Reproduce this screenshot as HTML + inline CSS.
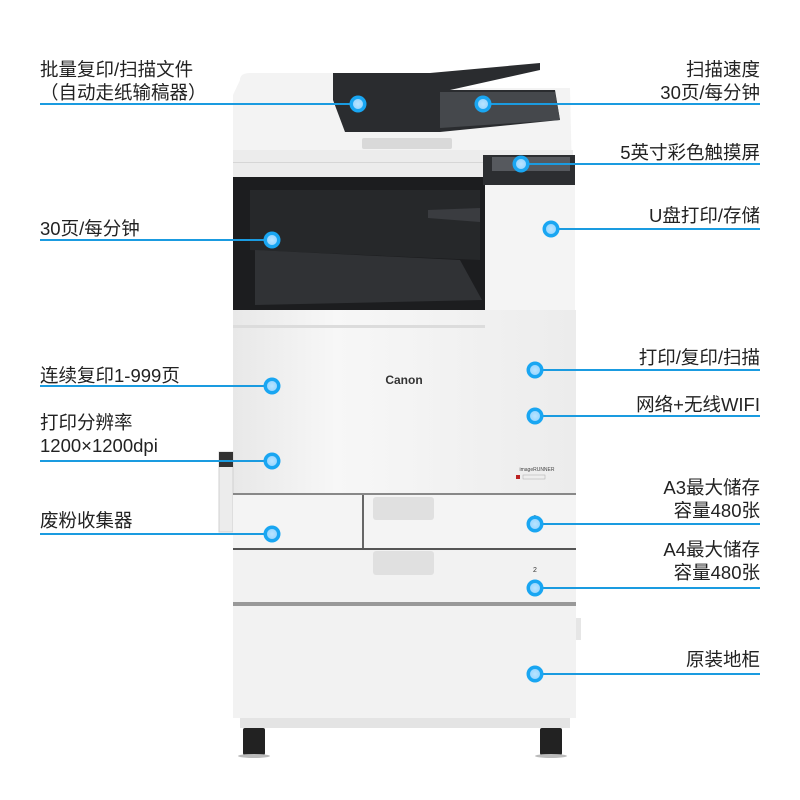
<!DOCTYPE html>
<html><head><meta charset="utf-8"><style>
body{margin:0;background:#fff}
#c{position:relative;width:800px;height:800px;overflow:hidden;background:#fff;font-family:"Liberation Sans","Noto Sans CJK SC",sans-serif;color:#222}
.t{position:absolute;font-size:18.5px;line-height:23px;white-space:nowrap}
.r{text-align:right;right:40px}
.l{left:40px}
</style></head><body><div id="c">
<svg width="800" height="800" style="position:absolute;left:0;top:0">
<defs>
<linearGradient id="g1" x1="0" y1="0" x2="1" y2="0"><stop offset="0" stop-color="#e8e8e8"/><stop offset=".3" stop-color="#f7f7f7"/><stop offset="1" stop-color="#ececec"/></linearGradient>
<radialGradient id="dt"><stop offset="0" stop-color="#b9e4ff"/><stop offset=".55" stop-color="#9dd8ff"/><stop offset=".62" stop-color="#19a6f2"/><stop offset="1" stop-color="#19a6f2"/></radialGradient>
</defs>
<path d="M240 80 Q240 73 250 73 L335 73 L335 88 L570 88 L572 177 L233 177 L233 95 Z" fill="#f3f3f3"/>
<rect x="233" y="150" width="340" height="27" fill="#ececec"/>
<rect x="233" y="162" width="340" height="1" fill="#d6d6d6"/>
<path d="M333 73 L430 73 L540 63 L540 70 L450 90 L555 90 L560 120 L440 132 L345 132 L333 100 Z" fill="#2a2c2f"/>
<path d="M440 92 L555 92 L560 120 L440 128 Z" fill="#45484c"/>
<rect x="362" y="138" width="90" height="11" rx="2" fill="#d9d9d9"/>
<path d="M233 177 L485 177 L485 310 Q485 325 470 325 L245 325 Q233 325 233 312 Z" fill="#1c1d1f"/>
<path d="M250 190 L480 190 L480 260 L250 250 Z" fill="#26282a"/>
<path d="M255 250 L460 260 L482 300 L255 305 Z" fill="#303235"/>
<path d="M428 210 L480 208 L480 222 L428 218 Z" fill="#3a3c40"/>
<rect x="483" y="155" width="92" height="30" fill="#2c2e31"/>
<rect x="492" y="157" width="78" height="14" fill="#56595e"/>
<rect x="485" y="185" width="90" height="125" fill="#f4f4f4"/>
<rect x="233" y="310" width="343" height="183" fill="url(#g1)"/>
<rect x="233" y="325" width="252" height="3" fill="#dcdcdc"/>
<text x="404" y="384" font-family="Liberation Sans" font-weight="bold" font-size="12" fill="#333" text-anchor="middle">Canon</text>
<text x="537" y="471" font-family="Liberation Sans" font-size="5" fill="#444" text-anchor="middle">imageRUNNER</text>
<rect x="516" y="475" width="4" height="4" fill="#b22"/><rect x="523" y="475" width="22" height="4" fill="none" stroke="#aaa" stroke-width=".5"/>
<rect x="219" y="452" width="14" height="80" fill="#ececec" stroke="#d0d0d0"/>
<rect x="219" y="452" width="14" height="15" fill="#333"/>
<rect x="233" y="493" width="343" height="55" fill="#f4f4f4"/>
<rect x="233" y="493" width="343" height="2" fill="#888"/>
<rect x="362" y="495" width="2" height="53" fill="#666"/>
<rect x="373" y="497" width="61" height="23" rx="3" fill="#e0e0e0"/>
<rect x="233" y="548" width="343" height="55" fill="#f2f2f2"/>
<rect x="233" y="548" width="343" height="2" fill="#555"/>
<rect x="373" y="551" width="61" height="24" rx="3" fill="#e0e0e0"/>
<rect x="233" y="602" width="343" height="4" fill="#999"/>
<text x="533" y="520" font-size="7" fill="#333" font-family="Liberation Sans">1</text>
<text x="533" y="572" font-size="7" fill="#333" font-family="Liberation Sans">2</text>
<rect x="233" y="606" width="343" height="112" fill="#f2f2f2"/>
<rect x="576" y="618" width="5" height="22" fill="#e6e6e6"/>
<rect x="240" y="718" width="330" height="10" fill="#e4e4e4"/>
<rect x="243" y="728" width="22" height="27" rx="2" fill="#222"/>
<rect x="540" y="728" width="22" height="27" rx="2" fill="#222"/>
<ellipse cx="254" cy="756" rx="16" ry="2" fill="#bbb"/>
<ellipse cx="551" cy="756" rx="16" ry="2" fill="#bbb"/>
<g stroke="#1a9be0" stroke-width="2">
<line x1="40" y1="104" x2="358" y2="104"/>
<line x1="483" y1="104" x2="760" y2="104"/>
<line x1="521" y1="164" x2="760" y2="164"/>
<line x1="40" y1="240" x2="272" y2="240"/>
<line x1="551" y1="229" x2="760" y2="229"/>
<line x1="40" y1="386" x2="272" y2="386"/>
<line x1="535" y1="370" x2="760" y2="370"/>
<line x1="535" y1="416" x2="760" y2="416"/>
<line x1="40" y1="461" x2="272" y2="461"/>
<line x1="40" y1="534" x2="272" y2="534"/>
<line x1="535" y1="524" x2="760" y2="524"/>
<line x1="535" y1="588" x2="760" y2="588"/>
<line x1="535" y1="674" x2="760" y2="674"/>
</g>
<g fill="url(#dt)">
<circle cx="358" cy="104" r="8.5"/><circle cx="483" cy="104" r="8.5"/><circle cx="521" cy="164" r="8.5"/>
<circle cx="272" cy="240" r="8.5"/><circle cx="551" cy="229" r="8.5"/><circle cx="272" cy="386" r="8.5"/>
<circle cx="535" cy="370" r="8.5"/><circle cx="535" cy="416" r="8.5"/><circle cx="272" cy="461" r="8.5"/>
<circle cx="272" cy="534" r="8.5"/><circle cx="535" cy="524" r="8.5"/><circle cx="535" cy="588" r="8.5"/>
<circle cx="535" cy="674" r="8.5"/>
</g>
</svg>
<div class="t l" style="top:58px">批量复印/扫描文件<br>（自动走纸输稿器）</div>
<div class="t r" style="top:58px">扫描速度<br>30页/每分钟</div>
<div class="t r" style="top:141px">5英寸彩色触摸屏</div>
<div class="t l" style="top:217px">30页/每分钟</div>
<div class="t r" style="top:204px">U盘打印/存储</div>
<div class="t l" style="top:364px">连续复印1-999页</div>
<div class="t r" style="top:346px">打印/复印/扫描</div>
<div class="t r" style="top:393px">网络+无线WIFI</div>
<div class="t l" style="top:411px">打印分辨率<br>1200×1200dpi</div>
<div class="t l" style="top:509px">废粉收集器</div>
<div class="t r" style="top:476px">A3最大储存<br>容量480张</div>
<div class="t r" style="top:538px">A4最大储存<br>容量480张</div>
<div class="t r" style="top:648px">原装地柜</div>
</div></body></html>
